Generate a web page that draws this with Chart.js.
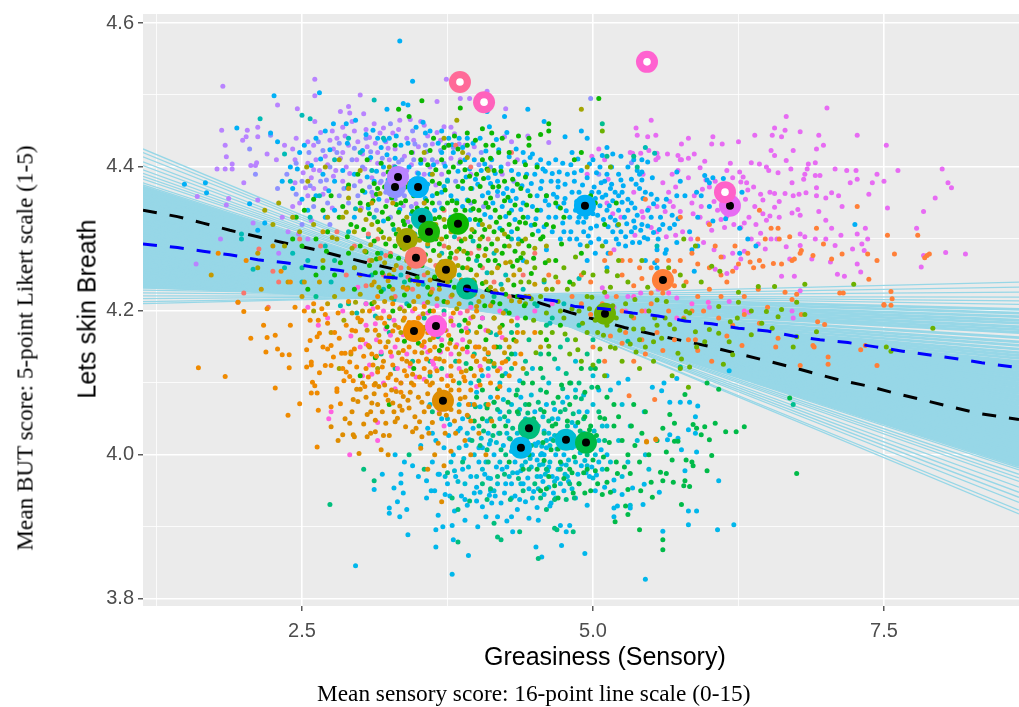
<!DOCTYPE html>
<html>
<head>
<meta charset="utf-8">
<title>Lets skin Breath vs Greasiness</title>
<script src="https://cdn.jsdelivr.net/npm/chart.js@4"></script>
<style>
  html, body { margin: 0; padding: 0; background: #fff; }
  #wrap { position: relative; width: 1019px; height: 707px; overflow: hidden; }
  #chart { position: absolute; left: 0; top: 0; }
  .lab { position: absolute; white-space: nowrap; color: #000; }
  #xTitle { left: 484px; top: 642px; font: 25px "Liberation Sans", Arial, sans-serif; }
  #yTitle { left: 87px; top: 309px; font: 25px "Liberation Sans", Arial, sans-serif; transform: translate(-50%, -50%) rotate(-90deg); }
  #xOuter { left: 317px; top: 680px; font: 23.3px "Liberation Serif", serif; }
  #yOuter { left: 25px; top: 348px; font: 23.2px "Liberation Serif", serif; transform: translate(-50%, -50%) rotate(-90deg); }
</style>
</head>
<body>
<div id="wrap">
  <canvas id="chart" width="1019" height="707"></canvas>
  <div class="lab" id="xTitle">Greasiness (Sensory)</div>
  <div class="lab" id="yTitle">Lets skin Breath</div>
  <div class="lab" id="xOuter">Mean sensory score: 16-point line scale (0-15)</div>
  <div class="lab" id="yOuter">Mean BUT score: 5-point Likert scale (1-5)</div>
</div>
<script>
// Axis ticks
const xTicks = [1.25, 2.5, 3.75, 5, 6.25, 7.5];
const yTicks = [3.8, 3.9, 4.0, 4.1, 4.2, 4.3, 4.4, 4.5, 4.6];
const xMajor = [2.5, 5, 7.5];
const yMajor = [3.8, 4.0, 4.2, 4.4, 4.6];

// Group means (big circles)
const meanX = [3.299, 3.325, 3.497, 3.531, 3.591, 3.84, 3.402, 3.479, 3.737, 3.918, 4.931, 6.177, 5.601, 5.103, 3.462, 3.651, 3.711, 4.45, 4.381, 4.768, 4.94];
const meanY = [4.372, 4.386, 4.372, 4.328, 4.31, 4.321, 4.3, 4.274, 4.257, 4.231, 4.346, 4.346, 4.243, 4.196, 4.172, 4.179, 4.075, 4.037, 4.01, 4.021, 4.017];
const meanColors = ['#8F91FF', '#B983FF', '#00B0F6', '#00BBB5', '#1CB80A', '#0CB702', '#A3A500', '#F8766D', '#C49A00', '#00BF8F', '#00AEF5', '#E76BF3', '#FF7F38', '#6BB100', '#F08B00', '#FF61E0', '#DE8C00', '#00BE7D', '#00B7EB', '#00BCD6', '#00BA48'];

// Ring markers with white centre
const ringX = [3.857, 4.064, 5.464, 6.134];
const ringY = [4.518, 4.49, 4.546, 4.365];
const ringColors = ['#FF6A98', '#FF62BC', '#FF62D0', '#FF61C9'];

// Dashed lines
const blackDashX = [1.134, 1.43, 1.65, 1.88, 2.12, 2.36, 2.59, 2.83, 3.08, 3.32, 3.49, 4.44, 4.82, 5.27, 5.53, 5.99, 6.21, 6.46, 6.68, 6.91, 7.14, 7.38, 7.61, 7.84, 8.07, 8.3, 8.66];
const blackDashY = [4.34, 4.331, 4.322, 4.312, 4.303, 4.294, 4.286, 4.276, 4.266, 4.257, 4.249, 4.216, 4.197, 4.177, 4.167, 4.151, 4.142, 4.132, 4.123, 4.113, 4.103, 4.095, 4.085, 4.076, 4.067, 4.058, 4.049];
const blueDashX = [1.134, 1.43, 1.65, 1.88, 2.12, 2.36, 2.59, 2.83, 3.06, 3.29, 3.52, 3.75, 3.97, 4.2, 4.44, 4.67, 4.85, 5.09, 5.34, 5.56, 5.79, 6.02, 6.25, 6.5, 6.72, 6.95, 7.19, 7.43, 7.66, 7.88, 8.11, 8.34, 8.66];
const blueDashY = [4.293, 4.288, 4.283, 4.278, 4.271, 4.267, 4.261, 4.256, 4.249, 4.246, 4.241, 4.235, 4.228, 4.224, 4.219, 4.214, 4.206, 4.203, 4.197, 4.193, 4.186, 4.182, 4.176, 4.172, 4.165, 4.16, 4.156, 4.15, 4.144, 4.139, 4.134, 4.128, 4.121];

// Fan of bootstrap lines: value at left edge and at right edge of the panel
const fanLeft = [4.425, 4.42, 4.414, 4.407, 4.402, 4.396, 4.391, 4.387, 4.383, 4.378, 4.375, 4.372, 4.371, 4.369, 4.368, 4.366, 4.364, 4.363, 4.361, 4.359, 4.358, 4.356, 4.354, 4.353, 4.351, 4.349, 4.348, 4.346, 4.345, 4.343, 4.341, 4.34, 4.338, 4.336, 4.335, 4.333, 4.332, 4.33, 4.328, 4.327, 4.325, 4.323, 4.322, 4.32, 4.319, 4.317, 4.315, 4.314, 4.312, 4.31, 4.309, 4.307, 4.306, 4.304, 4.302, 4.301, 4.299, 4.297, 4.296, 4.294, 4.293, 4.291, 4.289, 4.288, 4.286, 4.284, 4.283, 4.281, 4.28, 4.278, 4.276, 4.275, 4.273, 4.271, 4.27, 4.268, 4.267, 4.265, 4.263, 4.262, 4.26, 4.258, 4.257, 4.255, 4.254, 4.252, 4.25, 4.249, 4.247, 4.246, 4.244, 4.243, 4.241, 4.239, 4.238, 4.236, 4.235, 4.237, 4.234, 4.236, 4.233, 4.235, 4.233, 4.229, 4.225, 4.221, 4.217, 4.213, 4.21];
const fanRight = [3.918, 3.923, 3.934, 3.941, 3.948, 3.955, 3.963, 3.968, 3.973, 3.979, 3.982, 3.985, 3.989, 3.987, 3.992, 3.99, 3.995, 3.993, 3.998, 3.996, 4.001, 3.999, 4.004, 4.002, 4.007, 4.005, 4.01, 4.008, 4.013, 4.011, 4.016, 4.014, 4.019, 4.017, 4.022, 4.02, 4.025, 4.023, 4.028, 4.026, 4.031, 4.029, 4.034, 4.032, 4.037, 4.035, 4.04, 4.038, 4.043, 4.041, 4.046, 4.049, 4.047, 4.052, 4.05, 4.055, 4.058, 4.056, 4.061, 4.059, 4.064, 4.067, 4.065, 4.07, 4.073, 4.071, 4.076, 4.079, 4.082, 4.08, 4.085, 4.088, 4.091, 4.089, 4.094, 4.097, 4.1, 4.103, 4.106, 4.104, 4.109, 4.112, 4.115, 4.118, 4.121, 4.124, 4.127, 4.13, 4.134, 4.138, 4.142, 4.147, 4.152, 4.157, 4.163, 4.17, 4.174, 4.178, 4.183, 4.187, 4.192, 4.197, 4.202, 4.209, 4.214, 4.219, 4.226, 4.233, 4.24];

// Small points per group, flat x,y pairs
const ptsViolet = [7.01,4.482,6.66,4.47,5.5,4.465,5.37,4.454,5.38,4.444,5.47,4.442,5.54,4.444,5.82,4.44,5.76,4.432,6.03,4.442,6.02,4.432,6.11,4.432,6.25,4.435,6.39,4.444,6.54,4.444,6.56,4.454,6.65,4.451,6.62,4.442,6.78,4.449,6.94,4.444,6.92,4.425,6.98,4.43,7.27,4.444,7.52,4.43,6.53,4.423,6.56,4.416,6.72,4.423,6.66,4.409,6.85,4.404,6.91,4.406,6.36,4.406,6.43,4.404,6.49,4.4,6.51,4.395,6.59,4.392,6.7,4.397,6.84,4.397,6.82,4.39,6.91,4.388,6.95,4.388,6.81,4.383,6.71,4.378,7.08,4.397,7.18,4.395,7.26,4.395,7.44,4.39,7.62,4.395,8.0,4.397,7.27,4.383,7.21,4.378,7.4,4.378,7.5,4.38,8.05,4.378,8.08,4.371,7.94,4.357,7.37,4.362,7.53,4.343,7.84,4.338,7.78,4.315,8.03,4.281,8.2,4.279,7.84,4.277,7.82,4.261,7.34,4.315,7.36,4.3,7.31,4.293,7.33,4.284,7.23,4.286,7.13,4.305,7.27,4.307,7.14,4.345,7.11,4.36,7.05,4.364,7.0,4.357,6.92,4.371,6.92,4.36,6.94,4.338,7.0,4.326,7.05,4.315,6.91,4.3,7.0,4.3,6.82,4.303,6.78,4.307,6.78,4.291,6.66,4.289,6.69,4.272,6.88,4.272,7.04,4.268,7.08,4.291,7.27,4.265,7.3,4.254,7.1,4.251,7.16,4.248,6.62,4.248,6.73,4.248,5.05,4.425,5.32,4.42,5.34,4.419,5.41,4.419,5.48,4.423,5.55,4.419,5.56,4.413,5.64,4.418,5.54,4.41,5.73,4.416,5.76,4.41,5.82,4.412,5.87,4.418,5.96,4.408,5.92,4.399,6.18,4.405,6.15,4.395,6.2,4.385,6.26,4.393,6.29,4.386,6.27,4.379,6.32,4.378,6.38,4.372,6.33,4.368,6.44,4.362,6.46,4.354,6.52,4.365,6.56,4.363,6.6,4.352,6.65,4.363,6.72,4.36,6.77,4.362,6.83,4.364,6.56,4.344,6.76,4.341,6.78,4.333,6.71,4.336,6.6,4.33,6.52,4.332,6.46,4.335,6.49,4.326,6.4,4.32,6.34,4.33,6.3,4.322,6.27,4.316,6.21,4.32,6.13,4.316,6.02,4.312,5.99,4.322,6.1,4.327,6.15,4.332,6.07,4.34,6.04,4.352,5.93,4.345,5.85,4.35,5.86,4.335,5.92,4.33,5.75,4.338,5.69,4.345,5.66,4.352,5.62,4.338,5.55,4.345,5.48,4.343,5.42,4.338,5.65,4.365,5.71,4.372,5.6,4.378,5.68,4.39,5.73,4.395,5.75,4.41,5.82,4.385,5.87,4.36,5.94,4.369,6.0,4.372,5.97,4.382,6.05,4.38,6.19,4.37,6.31,4.355,6.39,4.345,6.44,4.308,6.53,4.3,6.58,4.3,6.48,4.286,6.42,4.293,6.36,4.3,6.3,4.283,6.27,4.272,6.2,4.28,6.12,4.275,6.04,4.285,6.05,4.258,6.15,4.252,6.23,4.26,5.95,4.295,5.84,4.3,5.77,4.31,5.71,4.305,5.63,4.303,5.55,4.31,5.5,4.316,5.43,4.33,5.36,4.305,5.24,4.33,5.17,4.335,5.12,4.35,5.18,4.285,5.3,4.22,5.41,4.225,5.56,4.23,5.72,4.218,6.17,4.213,6.78,4.228,6.0,4.205,6.34,4.198,6.71,4.2,6.72,4.19,5.08,4.232,5.18,4.205,4.95,4.39,4.99,4.415,5.1,4.41,5.13,4.383,5.35,4.365,5.43,4.39];
const ptsPurple = [1.82,4.512,2.61,4.522,2.61,4.499,2.29,4.486,2.46,4.481,1.81,4.451,2.03,4.451,2.12,4.455,2.12,4.442,2.02,4.442,1.99,4.437,1.84,4.43,1.85,4.414,1.77,4.397,1.84,4.397,1.9,4.404,1.9,4.397,2.06,4.402,2.11,4.406,2.1,4.402,2.0,4.378,1.87,4.356,1.6,4.359,1.85,4.347,2.08,4.322,1.8,4.3,1.59,4.265,2.12,4.354,3.74,4.522,3.86,4.495,3.94,4.495,4.09,4.505,3.66,4.491,4.25,4.481,3.0,4.5,2.9,4.484,2.83,4.477,2.91,4.475,3.03,4.474,2.61,4.463,3.34,4.465,3.43,4.466,3.52,4.463,3.55,4.458,3.66,4.448,3.72,4.456,3.78,4.455,3.85,4.432,3.9,4.43,3.98,4.428,4.24,4.442,4.3,4.435,4.44,4.443,4.62,4.434,4.35,4.41,4.27,4.404,4.22,4.39,3.62,4.432,3.5,4.428,3.4,4.44,3.28,4.447,3.2,4.454,3.12,4.46,3.05,4.452,2.95,4.45,2.85,4.455,2.8,4.44,2.76,4.45,2.66,4.448,2.6,4.43,2.55,4.435,2.45,4.44,2.42,4.425,2.35,4.43,2.28,4.41,2.2,4.418,2.44,4.41,2.55,4.405,2.62,4.41,2.7,4.415,2.77,4.425,2.85,4.42,2.9,4.43,2.98,4.435,3.06,4.428,3.15,4.42,3.22,4.435,3.3,4.425,3.38,4.415,3.45,4.42,3.55,4.41,3.25,4.41,3.15,4.405,3.08,4.41,2.97,4.41,2.88,4.4,2.79,4.395,2.65,4.395,2.58,4.385,2.6,4.37,2.7,4.37,2.55,4.36,2.48,4.35,2.42,4.345,2.33,4.33,2.38,4.31,2.3,4.28,2.55,4.3,2.85,4.38,3.0,4.38,3.1,4.385,3.2,4.39,3.26,4.375,3.4,4.395,3.55,4.39,3.6,4.4,3.7,4.39,3.65,4.375,3.95,4.39,3.86,4.41,
  2.74,4.437,2.87,4.443,2.93,4.463,3.08,4.441,3.17,4.447,3.24,4.426,3.33,4.452,3.46,4.437,3.58,4.443,3.69,4.437,3.81,4.446,3.13,4.433,3.02,4.418,2.83,4.412,2.72,4.403,2.6,4.396,2.51,4.392,2.44,4.378,2.53,4.371,2.68,4.362,2.77,4.387,2.91,4.391,3.04,4.397,3.17,4.378,3.29,4.401,3.44,4.403,3.52,4.382,3.66,4.407,3.78,4.412,3.11,4.36,3.23,4.353,3.01,4.343,2.76,4.343,2.58,4.326,2.47,4.307,3.37,4.346,3.41,4.324,3.48,4.349];
const ptsLavender = [2.23,4.444,2.05,4.425,2.1,4.39,2.29,4.37,2.37,4.39,2.45,4.405,2.56,4.42,2.64,4.435,2.5,4.38,2.66,4.38,2.74,4.4,2.8,4.42,2.93,4.41,3.02,4.4,3.1,4.365,3.18,4.38,3.22,4.365,3.3,4.355,3.38,4.36,3.44,4.345,3.36,4.41,3.46,4.41,3.56,4.43,3.62,4.41,3.74,4.43,3.85,4.405,3.72,4.405,3.82,4.38,3.68,4.35,3.55,4.35,3.26,4.33,3.14,4.34,2.98,4.36,2.9,4.35,2.82,4.36,2.72,4.35,2.6,4.345,2.5,4.32,2.74,4.32,3.05,4.44,3.26,4.46,3.45,4.45,4.04,4.42,4.12,4.4,4.18,4.36,4.32,4.38,4.06,4.345,3.95,4.35,4.98,4.495,5.05,4.39,5.33,4.406,
  2.68,4.423,2.82,4.433,2.95,4.426,3.09,4.421,3.19,4.412,3.33,4.407,3.47,4.432,3.57,4.421,3.69,4.423,3.8,4.427,3.93,4.417,4.02,4.403,3.08,4.372,2.95,4.374,2.86,4.37,2.71,4.382,2.57,4.374,2.45,4.362,3.36,4.38,3.29,4.37,3.41,4.373,3.49,4.392];
const ptsBlue = [3.34,4.575,3.45,4.519,2.65,4.503,2.26,4.499,1.94,4.454,2.23,4.447,2.29,4.435,1.49,4.376,1.67,4.378,1.68,4.364,2.05,4.349,2.18,4.322,2.12,4.312,3.37,4.488,3.41,4.486,3.23,4.48,4.09,4.477,4.44,4.48,4.24,4.47,4.58,4.463,4.11,4.456,4.26,4.448,4.76,4.442,3.48,4.455,3.54,4.462,3.6,4.45,3.7,4.45,3.76,4.44,3.85,4.44,3.92,4.44,4.03,4.44,4.17,4.438,4.34,4.425,4.4,4.42,4.48,4.418,4.55,4.41,4.62,4.405,4.68,4.41,4.74,4.405,4.82,4.42,4.9,4.395,4.13,4.41,4.21,4.4,4.3,4.395,4.36,4.39,4.43,4.39,4.5,4.39,4.56,4.38,4.64,4.38,4.7,4.372,4.78,4.39,4.84,4.38,4.88,4.365,4.26,4.37,4.18,4.38,4.1,4.385,4.04,4.395,3.98,4.41,3.9,4.41,3.8,4.42,3.7,4.42,3.6,4.39,3.52,4.405,3.42,4.4,3.35,4.43,3.25,4.44,3.15,4.44,3.05,4.445,2.96,4.465,2.88,4.46,2.77,4.46,2.7,4.45,2.62,4.44,2.52,4.43,2.48,4.42,2.4,4.4,2.33,4.38,2.42,4.37,2.5,4.355,2.55,4.34,2.62,4.36,2.68,4.39,2.78,4.38,2.85,4.395,2.95,4.39,3.04,4.365,3.12,4.38,3.2,4.4,3.16,4.355,3.28,4.39,3.44,4.38,3.62,4.36,3.7,4.365,3.78,4.36,3.88,4.37,3.96,4.37,4.05,4.36,4.14,4.35,4.22,4.345,4.3,4.34,4.4,4.35,4.48,4.345,4.55,4.34,4.62,4.33,4.7,4.345,4.8,4.33,4.85,4.34,4.2,4.315,4.3,4.31,4.36,4.3,4.02,4.32,3.88,4.345,3.78,4.33,3.64,4.34,3.44,4.335,3.2,4.325,2.95,4.33,2.78,4.34,2.7,4.33,3.85,4.31,4.12,4.33,4.4,4.27,4.6,4.285,4.72,4.3,4.68,4.33,
  3.11,4.451,3.21,4.437,3.31,4.443,3.41,4.433,3.56,4.447,3.67,4.433,3.79,4.431,3.88,4.427,3.97,4.433,4.08,4.422,4.19,4.424,4.28,4.414,4.41,4.407,4.52,4.403,4.59,4.394,4.71,4.393,4.81,4.403,4.87,4.411,4.16,4.391,4.07,4.404,3.94,4.397,3.84,4.394,3.73,4.401,3.63,4.403,3.5,4.391,3.37,4.387,3.23,4.417,3.14,4.394,3.02,4.423,2.89,4.433,2.74,4.424,2.66,4.411,2.58,4.402,2.46,4.397,2.73,4.367,2.89,4.371,3.06,4.386,3.24,4.382,3.34,4.369,3.52,4.364,3.58,4.376,3.75,4.382,3.83,4.353,3.92,4.354,4.01,4.376,4.1,4.364,4.23,4.363,4.34,4.356,4.44,4.367,4.52,4.36,4.59,4.353,4.66,4.362,4.76,4.356,4.82,4.365,4.9,4.351,4.25,4.331,4.33,4.327,4.44,4.33,4.51,4.328,4.58,4.317,4.65,4.31,4.74,4.322,4.81,4.31,4.07,4.334,3.94,4.327,3.7,4.343,3.56,4.356,3.34,4.341,3.07,4.343,
  4.46,4.413,4.57,4.397,4.65,4.391,4.76,4.376,4.47,4.377,4.39,4.374,4.31,4.367,4.62,4.347,4.69,4.358,4.77,4.339,4.87,4.323,4.53,4.311,4.47,4.319,4.38,4.341,4.29,4.353,4.18,4.366,4.12,4.377,3.99,4.383,3.91,4.386,3.72,4.373,3.55,4.377,3.3,4.412,3.18,4.427,3.09,4.413];
const ptsSky = [4.9,4.45,4.95,4.44,5.12,4.427,5.17,4.418,5.24,4.415,5.35,4.41,5.42,4.41,5.47,4.407,5.3,4.4,5.38,4.395,5.42,4.393,5.12,4.39,5.1,4.38,5.03,4.392,4.95,4.385,5.22,4.39,5.24,4.382,5.33,4.383,5.4,4.39,5.42,4.382,5.51,4.385,5.72,4.393,5.75,4.38,5.96,4.388,5.98,4.382,6.0,4.378,6.03,4.385,6.12,4.384,6.28,4.365,5.15,4.37,5.19,4.365,5.22,4.36,5.25,4.365,5.3,4.355,5.33,4.35,5.4,4.37,5.45,4.365,5.5,4.362,5.55,4.355,5.63,4.355,5.72,4.36,5.79,4.36,5.89,4.365,5.93,4.36,5.12,4.34,5.15,4.33,5.22,4.34,5.27,4.33,5.3,4.34,5.35,4.325,5.38,4.333,5.42,4.32,5.47,4.34,5.5,4.33,5.58,4.33,5.6,4.32,5.61,4.345,5.66,4.315,5.7,4.32,5.73,4.328,5.83,4.31,5.9,4.33,6.0,4.345,6.03,4.325,6.14,4.328,6.26,4.315,6.33,4.3,6.4,4.29,6.26,4.28,7.25,4.32,5.17,4.31,5.2,4.3,5.24,4.31,5.28,4.29,5.33,4.31,5.4,4.295,5.47,4.3,5.56,4.3,5.55,4.285,5.62,4.28,5.72,4.295,5.85,4.285,5.87,4.255,5.9,4.29,5.05,4.3,5.02,4.28,4.98,4.315,4.98,4.295,4.95,4.27,5.13,4.28,5.12,4.26,5.45,4.27,5.53,4.267,5.55,4.26,5.63,4.285,4.7,4.38,4.75,4.35,4.88,4.33,4.92,4.31,4.86,4.3,4.8,4.3,4.75,4.31,4.6,4.36,4.55,4.37,5.0,4.335,5.05,4.365,4.99,4.365,
  5.01,4.372,5.07,4.378,5.11,4.361,5.17,4.353,5.06,4.346,5.09,4.327,5.03,4.318,5.13,4.317,5.19,4.326,5.25,4.351,5.29,4.321,5.36,4.343,5.43,4.356,5.47,4.318,5.52,4.349,5.34,4.295,5.41,4.312,5.22,4.293,5.11,4.296,4.94,4.33,4.86,4.352,4.91,4.375,4.84,4.392,5.0,4.41,5.06,4.4,5.16,4.4,
  4.88,4.344,4.95,4.357,4.99,4.347,5.04,4.333,4.92,4.323,4.96,4.304,4.89,4.292,5.08,4.358,5.14,4.346,5.21,4.319,5.28,4.303,5.36,4.316,5.44,4.302,5.52,4.309,5.57,4.313,5.68,4.333,5.02,4.356,5.16,4.376,5.26,4.374,5.37,4.376,4.97,4.404,5.08,4.416];
const ptsTeal = [2.14,4.467,3.12,4.493,2.5,4.472,2.57,4.467,1.98,4.307,1.98,4.3,2.08,4.258,2.35,4.418,2.4,4.38,2.57,4.33,2.65,4.36,2.78,4.41,2.9,4.44,3.0,4.42,3.1,4.395,3.2,4.44,3.3,4.4,3.12,4.33,2.9,4.31,2.7,4.29,2.55,4.27,2.42,4.28,2.35,4.26,2.5,4.24,2.75,4.24,2.95,4.26,3.18,4.28,3.35,4.25,3.2,4.23,3.05,4.21,3.25,4.19,3.4,4.21,3.58,4.29,3.7,4.28,3.85,4.25,4.0,4.27,4.15,4.28,4.25,4.25,4.4,4.23,4.3,4.3,3.95,4.34,3.75,4.38,4.58,4.24,4.75,4.21,4.88,4.245,5.45,4.427,5.53,4.419,5.55,4.29,
  2.96,4.342,3.07,4.303,3.29,4.313,3.47,4.307,3.63,4.317,3.81,4.303,3.97,4.297,4.09,4.253,4.21,4.237,3.91,4.236,3.54,4.237,3.29,4.216,3.13,4.193,2.97,4.197,2.83,4.207,4.52,4.207,4.63,4.183,3.67,4.164,3.93,4.172,4.17,4.167];
const ptsAqua = [3.6,4.07,3.75,4.05,3.85,4.07,3.95,4.1,4.1,4.12,4.2,4.1,4.33,4.14,4.48,4.12,4.62,4.1,4.7,4.12,4.85,4.13,5.0,4.11,5.15,4.09,5.0,4.07,4.85,4.09,4.65,4.05,4.6,4.02,4.63,3.99,4.7,3.98,4.72,4.03,4.82,4.045,4.88,4.06,4.92,4.03,4.85,3.99,4.78,3.97,4.72,3.96,4.62,3.955,4.52,3.97,4.55,4.0,4.5,4.03,4.42,4.05,4.35,4.03,4.3,4.07,4.2,4.05,4.12,4.02,4.2,3.99,4.28,3.97,4.38,3.96,4.42,3.99,4.05,3.98,3.98,4.0,3.92,4.03,3.85,4.01,3.78,3.99,3.9,3.96,4.15,3.95,4.3,3.94,4.48,3.94,4.58,3.945,4.68,3.94,4.88,3.96,4.95,3.985,5.02,4.0,5.08,3.98,5.15,3.99,5.22,4.02,5.08,4.04,5.32,4.04,5.38,4.02,5.45,4.0,5.48,3.98,5.25,3.97,5.18,3.95,5.32,3.93,5.3,3.99,5.44,4.06,5.25,4.07,5.12,4.04,5.05,4.02,
  4.43,4.023,4.47,3.983,4.51,4.013,4.57,3.987,4.63,4.013,4.67,4.027,4.74,4.013,4.79,3.993,4.83,4.027,4.89,4.003,4.96,4.017,4.53,3.953,4.59,3.973,4.67,3.963,4.76,3.973,4.82,3.953,4.36,4.003,4.28,4.023,4.17,4.017,4.09,4.047,4.23,4.077,4.37,4.063,4.47,4.083,4.57,4.053,4.74,4.073,4.92,4.083,5.01,4.033,4.04,4.023,3.93,3.983,3.84,3.963,4.12,3.967,
  4.46,3.995,4.54,3.986,4.61,3.978,4.69,4.008,4.77,3.986,4.84,4.012,4.93,3.992,5.0,3.968,4.56,4.012,4.62,4.03,4.39,3.985,4.31,3.975,4.18,3.96,4.08,3.99,4.0,3.97,3.89,3.995,3.81,3.978,3.73,3.97,4.26,4.03,4.41,4.035,4.53,4.04,4.78,4.022];
const ptsCyan = [2.96,3.846,3.79,3.834,3.93,3.86,3.65,3.872,3.41,3.889,3.65,3.896,3.71,3.9,3.79,3.902,3.8,3.882,3.9,3.909,4.01,3.9,4.08,3.914,4.18,3.914,4.26,3.908,4.3,3.914,4.31,3.893,4.45,3.912,4.53,3.909,4.51,3.872,4.56,3.858,4.73,3.874,4.77,3.893,4.8,3.902,4.72,3.902,3.34,3.914,3.25,3.919,3.25,3.926,3.4,3.924,3.32,3.935,3.37,3.947,3.29,3.954,3.35,3.961,3.35,3.973,3.19,3.973,3.12,3.952,3.57,3.94,3.57,3.964,3.61,3.95,3.64,3.95,3.73,3.945,3.67,3.916,3.81,3.922,3.9,3.938,4.0,3.936,4.05,3.928,4.11,3.944,4.12,3.95,4.21,3.933,4.35,3.924,4.37,3.938,4.66,3.947,4.63,3.929,4.64,3.933,4.52,3.927,5.45,3.827,4.93,3.863,5.6,3.894,5.82,3.903,6.07,3.896,6.21,3.903,5.89,3.922,5.82,3.922,5.43,3.931,5.32,3.926,5.21,3.929,5.18,3.926,5.18,3.914,5.57,3.948,5.34,3.954,5.44,3.959,6.08,3.964,5.79,3.978,5.89,4.004,5.76,4.007,5.88,4.03,5.82,4.035,5.88,4.053,5.9,4.068,5.83,4.073,5.75,4.073,5.66,4.073,5.72,4.106,5.61,4.1,5.59,4.089,5.51,4.094,6.17,4.117,5.64,4.021,5.66,4.028,5.73,4.023,3.3,4.0,3.38,3.99,3.45,3.985,3.5,3.97,3.62,3.99,3.65,4.02,3.72,4.01,3.8,4.0,3.82,3.97,3.75,3.96,3.88,3.98,3.95,3.97,4.0,3.955,4.02,3.99,4.05,4.01,4.1,4.03,4.15,4.0,4.22,3.98,4.25,3.96,4.33,3.99,4.2,4.06,4.28,4.09,4.38,4.08,4.12,4.08,4.05,4.11,3.95,4.07,3.88,4.05,3.7,4.05,3.62,4.03,4.42,4.02,4.48,4.0,4.55,3.97,4.6,4.01,4.65,3.97,4.68,4.0,4.75,4.0,4.82,4.01,4.9,3.985,4.97,3.97,5.02,3.95,5.05,3.99,5.12,4.0,5.18,3.965,5.1,3.955,5.25,3.945,4.4,3.96,4.75,3.95,4.85,3.94,4.95,3.93,4.42,3.935,4.3,3.96,4.35,3.975,4.5,4.06,4.6,4.07,4.7,4.05,4.78,4.08,4.85,4.04,4.95,4.06,5.05,4.09,5.12,4.11,5.22,4.1,5.3,4.105,
  3.52,4.013,3.58,4.037,3.67,3.973,3.76,4.027,3.84,4.033,3.91,4.013,3.97,4.037,4.03,4.067,4.07,3.973,4.17,3.983,4.23,4.013,4.27,4.047,4.33,4.017,4.39,4.043,4.47,4.027,4.53,4.017,4.57,3.963,4.62,3.983,4.69,3.967,4.73,3.987,4.79,3.963,4.86,4.017,4.93,4.007,4.99,3.983,5.07,4.007,4.13,3.933,4.24,3.947,4.33,3.943,4.45,3.953,4.52,3.993,4.58,4.033,4.67,4.063,3.87,3.943,3.77,3.943,3.68,3.973,4.0,4.087,4.15,4.073,4.25,4.113,4.37,4.103,
  4.03,3.948,4.1,3.968,4.16,3.943,4.26,3.983,4.38,3.978,4.44,3.968,4.49,3.949,4.56,4.002,4.64,4.022,4.71,4.018,4.77,4.027,4.87,3.973,4.94,3.975,5.03,3.972,4.19,4.03,4.11,4.015,4.02,4.01,3.94,4.021,3.86,4.037,3.77,4.042,3.98,3.947,3.92,3.93,4.3,4.005,4.36,4.02,4.42,4.006,4.5,4.015,4.58,4.0];
const ptsMint = [2.74,3.931,3.03,3.98,3.12,3.964,3.84,3.879,4.21,3.882,4.18,3.886,4.37,3.893,4.53,3.856,4.67,3.898,4.69,3.896,4.83,3.893,4.15,3.905,3.79,3.94,3.84,3.924,3.94,3.936,4.09,3.938,4.29,3.938,4.6,3.924,4.67,3.938,4.77,3.938,4.84,3.94,3.42,4.0,3.55,3.98,3.62,4.06,3.75,3.975,3.88,3.99,3.96,4.02,4.02,4.04,4.08,4.07,4.12,4.05,4.2,4.03,4.25,4.0,4.1,3.99,4.05,3.96,4.18,3.97,4.32,4.01,4.38,4.04,4.28,4.06,4.35,4.09,4.42,4.07,4.55,4.09,4.5,4.04,4.58,4.03,4.6,3.98,4.5,3.96,4.45,3.98,4.4,3.95,4.55,3.94,4.72,3.98,4.66,4.02,4.72,4.06,4.78,4.04,4.85,4.08,4.92,4.05,4.88,4.1,4.98,4.12,5.05,4.06,5.1,4.02,4.95,4.0,4.8,3.96,3.85,4.1,3.7,4.12,3.6,4.13,4.2,4.15,4.1,4.14,4.3,4.17,4.45,4.16,4.6,4.18,4.95,4.14,5.05,4.13,
  3.93,4.053,3.99,4.067,4.06,4.033,4.14,4.027,4.18,4.063,4.24,4.053,4.31,4.037,4.36,4.057,4.43,4.047,4.47,4.013,4.53,4.073,4.62,4.047,4.7,4.027,4.76,4.063,4.83,4.057,4.89,4.033,4.02,4.103,4.15,4.123,4.27,4.133,4.43,4.113,4.57,4.107,4.67,4.133,4.77,4.113,3.91,4.127,4.36,3.967,4.24,3.973,4.12,3.953,
  4.03,4.013,4.09,4.007,4.21,4.007,4.29,4.022,4.44,4.058,4.55,4.063,4.66,4.072,4.74,4.092,4.81,4.1,4.9,4.078,4.99,4.094];
const ptsSeaGreen = [2.5,4.26,2.62,4.22,2.78,4.27,2.9,4.21,3.1,4.25,3.25,4.17,3.38,4.24,3.55,4.19,3.6,4.11,3.72,4.2,3.85,4.18,3.95,4.21,4.05,4.19,4.15,4.22,4.25,4.2,4.35,4.18,4.5,4.21,4.65,4.19,4.78,4.16,4.88,4.18,5.0,4.16,3.82,4.13,3.98,4.14,4.12,4.17,4.3,4.12,4.42,4.13,4.55,4.14,4.72,4.15,3.45,4.13,3.3,4.12,3.18,4.14,5.08,4.46,5.12,4.415,5.35,4.415,5.75,4.122,5.3,4.158,5.38,4.4,6.72,4.07];
const ptsEmerald = [6.75,3.974,6.69,4.079,6.3,4.039,6.23,4.032,6.14,4.032,6.05,4.044,6.0,4.021,6.02,3.999,5.98,3.978,6.08,4.091,5.98,4.1,5.96,4.039,5.93,4.028,5.89,4.037,5.86,4.042,5.85,3.99,5.8,3.993,5.86,3.985,5.83,3.956,5.79,3.964,5.78,3.957,5.76,3.931,5.69,3.962,5.68,3.993,5.63,4.004,5.7,4.044,5.73,4.019,5.7,4.019,5.6,4.037,5.79,4.084,5.66,4.056,5.58,3.976,5.63,3.974,5.6,3.964,5.51,3.941,5.5,3.962,5.41,3.95,5.3,3.952,5.4,3.896,5.6,3.882,5.6,3.868,5.3,3.917,5.28,3.929,5.19,3.907,5.15,3.948,5.32,3.974,5.21,3.974,5.12,3.962,4.0,4.08,4.05,4.09,4.12,4.13,4.22,4.11,4.3,4.14,4.4,4.1,4.48,4.1,4.55,4.12,4.62,4.14,4.7,4.08,4.8,4.1,4.9,4.12,5.02,4.12,5.12,4.08,5.18,4.07,5.1,4.05,5.18,4.04,5.25,4.02,5.33,4.04,5.42,4.03,5.45,4.06,5.35,4.07,5.55,4.02,5.48,4.0,5.4,3.99,5.3,4.0,5.2,3.99,5.12,3.98,5.04,3.96,4.95,3.98,4.88,4.01,4.98,4.04,4.82,4.02,4.75,4.03,4.65,4.04,4.58,4.06,4.45,4.07,4.35,4.06,4.25,4.04,4.15,4.04,4.05,4.05,4.45,4.0,4.52,3.98,4.62,3.97,4.72,3.99,4.8,3.98,4.88,3.96,4.98,3.95,5.08,3.945,4.7,3.94,4.55,3.95,4.4,3.98,4.28,3.99,
  4.57,4.017,4.64,4.007,4.68,4.043,4.73,4.013,4.78,4.047,4.84,3.997,4.9,4.023,4.93,4.053,5.0,3.993,5.03,4.027,5.09,3.997,5.14,4.017,5.22,4.053,5.27,3.983,5.36,4.013,4.6,3.953,4.67,3.957,4.75,3.967,4.83,3.947,4.93,3.947,4.15,4.073,4.27,4.073,4.42,4.03,4.49,4.05,4.6,4.087,4.73,4.097,
  4.97,4.035,5.06,4.052,4.87,4.045,4.92,3.975,5.02,3.978,4.7,4.008,4.82,3.975,4.58,3.992,4.47,4.043,4.34,4.083,4.18,4.092,4.09,4.065,3.98,4.047,4.8,4.07,4.93,4.087,5.04,4.094];
const ptsPink = [2.55,4.205,2.72,4.19,2.85,4.2,2.64,4.18,2.92,4.165,3.05,4.18,3.14,4.16,3.22,4.175,3.3,4.15,3.4,4.14,3.48,4.16,3.55,4.15,3.62,4.13,3.7,4.16,3.78,4.14,3.72,4.195,3.8,4.18,3.88,4.16,3.95,4.19,3.55,4.21,3.45,4.2,3.35,4.205,3.2,4.2,3.05,4.21,3.0,4.15,3.02,4.11,3.08,4.125,3.2,4.1,3.35,4.1,3.32,4.12,3.55,4.105,3.65,4.12,3.75,4.11,3.85,4.12,4.0,4.15,4.1,4.11,4.2,4.12,2.73,4.05,2.91,4.0,3.15,4.045,3.15,4.02,3.72,4.04,3.68,4.06,2.75,4.06,3.95,4.205,4.05,4.19,4.2,4.2,4.35,4.19,4.5,4.2,4.65,4.21,5.12,4.22,5.28,4.2,5.35,4.22,5.45,4.2,5.65,4.225,5.72,4.19,5.85,4.21,5.99,4.212,6.3,4.2,
  3.58,4.197,3.66,4.207,3.74,4.173,3.61,4.183,3.53,4.173,3.45,4.183,3.37,4.167,3.29,4.187,3.18,4.143,3.11,4.203,3.43,4.123,3.58,4.143,3.83,4.153,3.92,4.143,4.08,4.173,4.22,4.163,2.98,4.233,3.27,4.137,3.69,4.143,3.86,4.197,4.03,4.123,4.13,4.21,
  3.51,4.192,3.39,4.172,3.26,4.166,3.13,4.182,3.05,4.154,3.67,4.168,3.78,4.19,3.91,4.176,3.63,4.126,3.48,4.108,3.3,4.092,3.1,4.112,4.0,4.095];
const ptsSalmon = [2.13,4.286,2.48,4.3,2.66,4.29,2.8,4.31,2.95,4.29,3.15,4.3,3.26,4.28,3.08,4.27,3.2,4.25,3.35,4.26,3.55,4.25,3.62,4.23,3.45,4.23,3.3,4.22,3.72,4.29,3.85,4.3,3.95,4.28,4.05,4.26,4.15,4.24,4.28,4.22,4.4,4.25,4.1,4.3,3.92,4.2,3.78,4.22,3.05,4.235,2.88,4.25,3.95,4.4,3.72,4.34,3.82,4.43,4.3,4.42,4.5,4.28,1.95,4.212,2.0,4.225,2.21,4.205,2.25,4.255,2.3,4.24,
  3.37,4.293,3.52,4.283,3.65,4.263,3.41,4.247,3.22,4.277,3.07,4.307,3.58,4.313,3.82,4.273,4.02,4.287];
const ptsCoral = [7.27,4.345,7.53,4.305,7.79,4.305,7.59,4.279,7.89,4.279,7.87,4.277,7.85,4.274,7.44,4.27,7.36,4.279,7.37,4.244,7.56,4.227,7.57,4.217,7.5,4.208,7.56,4.208,7.14,4.279,7.05,4.272,6.92,4.315,6.98,4.293,6.89,4.277,6.79,4.284,6.69,4.303,6.43,4.34,6.53,4.315,6.59,4.315,7.15,4.225,7.12,4.225,7.5,4.209,6.9,4.15,7.02,4.136,7.02,4.126,7.44,4.124,7.3,4.146,7.34,4.152,6.99,4.181,6.93,4.185,6.89,4.152,6.78,4.124,6.59,4.162,6.57,4.15,6.43,4.183,6.28,4.152,6.79,4.195,6.71,4.216,6.75,4.223,6.65,4.226,5.53,4.077,5.31,4.082,5.46,4.019,5.54,4.021,5.45,4.355,5.75,4.33,5.9,4.3,6.0,4.32,6.05,4.29,6.1,4.275,6.22,4.29,6.25,4.265,6.33,4.28,6.35,4.268,6.43,4.27,6.46,4.262,6.55,4.266,6.62,4.265,6.71,4.27,6.73,4.272,6.78,4.28,6.6,4.3,6.48,4.3,6.38,4.26,6.2,4.255,6.1,4.25,6.0,4.26,5.9,4.265,5.85,4.28,5.75,4.27,5.7,4.255,5.65,4.27,5.55,4.27,5.5,4.26,5.4,4.26,5.32,4.27,5.25,4.27,5.15,4.28,5.1,4.27,5.25,4.25,5.35,4.235,5.42,4.245,5.5,4.225,5.6,4.225,5.7,4.235,5.8,4.24,5.9,4.22,6.0,4.23,6.1,4.22,6.15,4.24,6.3,4.22,6.42,4.23,6.5,4.205,6.3,4.195,6.2,4.18,6.08,4.19,5.95,4.2,5.85,4.2,5.78,4.19,5.65,4.2,5.5,4.21,5.42,4.2,5.35,4.19,5.25,4.2,5.2,4.22,5.08,4.21,4.98,4.24,4.9,4.25,4.82,4.22,4.7,4.24,4.62,4.25,4.9,4.21,4.98,4.195,5.15,4.165,5.28,4.17,5.42,4.16,5.55,4.17,5.7,4.16,5.82,4.16,5.9,4.145,6.02,4.13,6.15,4.165,5.88,4.16,5.6,4.145,5.45,4.14,5.35,4.13,5.25,4.155,5.1,4.13,5.0,4.15];
const ptsLime = [7.92,4.176,7.56,4.144,7.52,4.15,7.24,4.237,6.82,4.237,6.82,4.195,6.92,4.171,6.72,4.15,6.75,4.164,6.54,4.176,6.2,4.139,6.12,4.126,5.83,4.122,5.75,4.12,5.76,4.133,5.73,4.141,5.82,4.094,5.68,4.11,6.17,4.157,6.36,4.167,6.24,4.19,6.62,4.202,6.59,4.192,6.36,4.2,6.45,4.183,6.49,4.199,6.25,4.212,6.08,4.206,6.18,4.185,6.08,4.169,6.0,4.174,5.89,4.15,5.96,4.157,5.88,4.171,5.8,4.199,5.83,4.197,5.78,4.188,6.75,4.212,6.56,4.234,6.42,4.234,6.25,4.226,6.09,4.255,6.02,4.262,5.93,4.24,5.78,4.235,5.63,4.24,5.55,4.215,5.62,4.19,5.7,4.175,5.55,4.18,5.48,4.2,5.4,4.16,5.45,4.15,5.35,4.175,5.28,4.21,5.2,4.19,5.12,4.18,5.15,4.15,5.04,4.17,5.05,4.2,4.95,4.22,4.88,4.2,4.78,4.23,4.72,4.2,4.65,4.23,4.55,4.22,4.45,4.24,4.42,4.21,4.38,4.24,4.55,4.17,4.65,4.17,4.75,4.19,4.85,4.16,4.95,4.17,5.0,4.125,5.1,4.11,5.25,4.13,5.4,4.12,5.52,4.13,4.9,4.13,4.8,4.14,5.0,4.25,5.12,4.255,5.22,4.27,5.3,4.24,5.42,4.27,5.55,4.25,5.65,4.26,5.75,4.25,5.88,4.29,5.78,4.3,5.22,4.32,5.08,4.29,4.95,4.29,4.85,4.275,4.75,4.26,4.62,4.27,4.5,4.26,4.4,4.28,5.15,4.4,5.08,4.45,
  4.47,4.217,4.58,4.243,4.68,4.247,4.83,4.237,4.92,4.253,4.7,4.213,4.82,4.203,4.97,4.203,5.15,4.233,5.33,4.193,5.47,4.233,5.17,4.207,4.6,4.197,4.49,4.187,4.91,4.183,5.06,4.147,5.23,4.173,5.52,4.157,5.37,4.143,5.63,4.213,
  4.76,4.168,4.87,4.146,5.02,4.187,5.09,4.166,5.19,4.148,5.32,4.154,5.43,4.175,5.53,4.19,5.59,4.162,5.66,4.181,4.99,4.219,5.1,4.226,5.21,4.249,5.36,4.216,4.62,4.151,4.51,4.142];
const ptsGreen = [3.86,4.482,3.53,4.492,3.33,4.48,3.42,4.47,3.63,4.44,3.76,4.43,3.84,4.425,3.92,4.43,3.99,4.437,4.08,4.43,4.14,4.43,4.55,4.445,4.62,4.46,4.45,4.43,4.28,4.42,4.22,4.44,4.12,4.412,4.05,4.41,4.0,4.39,4.15,4.395,4.24,4.38,4.38,4.37,4.46,4.36,4.6,4.36,4.68,4.35,4.75,4.33,4.6,4.32,4.5,4.32,4.4,4.33,4.28,4.32,4.2,4.33,4.15,4.31,4.08,4.35,4.02,4.34,3.95,4.37,3.88,4.38,3.8,4.4,3.7,4.41,3.62,4.38,3.52,4.41,3.44,4.42,3.3,4.43,3.18,4.405,3.06,4.41,2.98,4.39,2.9,4.375,2.82,4.33,2.75,4.36,2.68,4.34,2.6,4.355,2.52,4.34,2.45,4.33,2.42,4.3,2.5,4.29,2.62,4.3,2.72,4.31,2.85,4.345,2.92,4.32,3.0,4.35,3.08,4.335,3.15,4.37,3.22,4.345,3.18,4.31,3.28,4.32,3.35,4.35,3.46,4.36,3.55,4.33,3.62,4.35,3.68,4.33,3.75,4.35,3.82,4.34,3.9,4.34,3.98,4.31,3.92,4.28,4.02,4.29,4.1,4.27,4.22,4.28,4.35,4.27,4.45,4.29,4.55,4.3,4.68,4.27,4.8,4.24,4.9,4.28,4.35,4.22,4.2,4.21,4.1,4.23,3.98,4.24,3.88,4.26,3.78,4.28,3.65,4.3,3.5,4.3,3.38,4.32,3.3,4.29,3.15,4.28,3.0,4.29,2.9,4.28,2.78,4.25,2.68,4.26,2.55,4.23,2.62,4.25,2.95,4.23,3.1,4.21,3.28,4.2,3.45,4.18,3.6,4.2,3.78,4.16,3.92,4.15,4.08,4.16,4.22,4.18,4.32,4.16,4.42,4.19,4.6,4.16,4.72,4.18,4.98,4.36,4.9,4.42,5.02,4.35,5.1,4.32,5.2,4.35,5.05,4.495,4.62,4.45,4.45,4.44,4.84,4.41,3.0,4.11,3.25,4.07,3.46,4.12,
  3.02,4.367,3.11,4.353,3.19,4.337,3.27,4.357,3.33,4.337,3.39,4.353,3.43,4.317,3.49,4.343,3.57,4.353,3.59,4.323,3.66,4.363,3.73,4.317,3.79,4.353,3.86,4.327,3.93,4.353,3.99,4.327,4.05,4.303,4.12,4.357,4.17,4.323,4.24,4.353,4.33,4.347,4.37,4.323,4.43,4.347,4.52,4.34,4.57,4.303,4.66,4.317,4.72,4.343,3.03,4.313,3.12,4.297,3.22,4.293,3.31,4.307,3.41,4.297,3.47,4.277,3.54,4.307,3.61,4.313,3.68,4.293,3.74,4.303,3.81,4.313,3.87,4.297,3.95,4.303,4.03,4.263,4.07,4.313,4.13,4.293,4.19,4.263,4.27,4.303,4.33,4.283,4.39,4.297,4.49,4.273,4.59,4.267,4.73,4.293,3.08,4.263,3.19,4.253,3.33,4.273,3.43,4.243,3.53,4.263,3.64,4.247,3.72,4.257,3.81,4.233,3.95,4.257,4.07,4.207,4.25,4.223,4.41,4.207,3.12,4.377,3.24,4.393,3.36,4.393,3.47,4.383,3.58,4.403,3.68,4.377,3.76,4.393,3.86,4.407,3.94,4.387,4.03,4.373,4.09,4.397,4.19,4.373,4.31,4.383,4.33,4.407,4.42,4.403,3.6,4.423,3.72,4.427,3.81,4.443,3.92,4.447,4.05,4.453,4.13,4.447,4.19,4.42,4.36,4.443,4.52,4.4,2.89,4.303,2.71,4.283,2.83,4.267,2.97,4.317,3.13,4.253,3.28,4.247,3.18,4.227,3.42,4.207,3.6,4.223,3.72,4.213,3.9,4.187,4.15,4.19,4.28,4.197,3.5,4.155,3.68,4.145,3.95,4.12,
  3.07,4.348,3.15,4.324,3.24,4.328,3.31,4.348,3.37,4.325,3.45,4.338,3.52,4.324,3.57,4.342,3.64,4.328,3.71,4.342,3.77,4.326,3.83,4.35,3.89,4.322,3.97,4.342,4.03,4.326,4.1,4.344,4.16,4.34,4.22,4.312,4.28,4.336,4.35,4.314,4.42,4.322,4.48,4.306,3.05,4.282,3.14,4.272,3.26,4.276,3.36,4.288,3.44,4.268,3.56,4.278,3.63,4.284,3.7,4.268,3.77,4.274,3.85,4.286,3.93,4.272,4.01,4.276,4.08,4.286,4.16,4.27,4.24,4.29,4.31,4.262,4.38,4.274,4.47,4.252,3.14,4.362,3.21,4.372,3.3,4.38,3.39,4.372,3.5,4.372,3.65,4.396,3.73,4.368,3.84,4.373,3.9,4.396,3.98,4.352,4.06,4.384,4.14,4.372,4.21,4.394,4.27,4.358,4.35,4.376,4.42,4.386,3.25,4.234,3.38,4.222,3.49,4.246,3.58,4.233,3.68,4.236,3.77,4.242,3.86,4.226,3.97,4.228,4.05,4.238,4.14,4.212,4.32,4.236,3.55,4.176,3.7,4.152,3.87,4.172,4.03,4.178,4.17,4.15,3.23,4.178,3.38,4.158,3.13,4.135];
const ptsOlive = [3.83,4.465,2.54,4.4,2.42,4.33,2.3,4.35,2.55,4.38,2.7,4.4,2.82,4.41,3.0,4.395,3.25,4.4,3.55,4.42,3.72,4.44,3.88,4.42,4.1,4.395,3.0,4.34,2.85,4.33,2.72,4.33,2.6,4.32,2.48,4.31,2.35,4.29,2.25,4.32,2.18,4.34,2.12,4.26,2.68,4.27,2.8,4.3,2.95,4.31,3.1,4.32,3.25,4.3,3.4,4.33,3.52,4.32,3.65,4.32,3.78,4.31,3.9,4.3,4.05,4.32,4.18,4.3,4.28,4.29,4.42,4.3,4.6,4.29,3.1,4.27,3.25,4.25,3.4,4.27,3.6,4.27,3.75,4.24,3.9,4.22,4.08,4.24,4.22,4.23,4.42,4.22,4.6,4.23,4.9,4.48,4.95,4.4,2.95,4.26,2.78,4.22,2.6,4.2,3.35,4.17,3.6,4.16,3.85,4.14,4.1,4.13,3.0,4.16,2.82,4.12,3.15,4.12,
  2.88,4.337,3.05,4.327,3.16,4.313,3.33,4.313,3.46,4.327,3.59,4.333,3.72,4.327,3.84,4.317,3.96,4.313,4.11,4.317,4.24,4.307,4.36,4.293,4.5,4.287,3.04,4.283,3.21,4.267,3.31,4.263,3.46,4.283,3.58,4.253,3.68,4.277,3.84,4.263,3.97,4.243,4.13,4.253,4.27,4.243,4.37,4.257,3.16,4.233,3.34,4.203,3.5,4.237,3.66,4.217,3.83,4.203,4.02,4.213,4.2,4.177,2.9,4.357,3.17,4.363,3.42,4.377,3.62,4.39,3.92,4.413,3.0,4.223,2.86,4.187,
  2.76,4.302,2.93,4.287,3.09,4.292,3.2,4.302,3.38,4.286,3.51,4.298,3.66,4.303,3.76,4.288,3.89,4.283,4.03,4.3,4.17,4.284,4.29,4.268,4.43,4.268,3.27,4.218,3.41,4.232,3.58,4.212,3.79,4.222,3.93,4.237,4.12,4.233,4.3,4.214,3.46,4.18,3.72,4.182,3.94,4.157,3.12,4.212,2.96,4.212];
const ptsGold = [2.12,4.28,1.72,4.25,2.15,4.23,2.25,4.29,2.38,4.24,2.52,4.24,2.65,4.24,2.72,4.21,2.85,4.23,3.0,4.25,3.12,4.24,3.28,4.23,3.42,4.26,3.55,4.27,3.68,4.23,3.8,4.25,3.92,4.26,4.05,4.22,4.18,4.26,4.32,4.25,4.45,4.22,3.02,4.2,3.15,4.19,3.3,4.18,3.5,4.22,3.68,4.19,3.85,4.21,4.0,4.17,4.15,4.19,4.28,4.15,4.4,4.17,3.78,4.32,3.55,4.35,3.28,4.35,3.1,4.35,2.9,4.37,2.68,4.31,2.5,4.22,3.7,4.3,4.0,4.25,4.25,4.16,4.4,4.12,4.55,4.15,2.75,4.17,2.92,4.14,3.08,4.15,
  3.17,4.273,3.29,4.257,3.37,4.233,3.46,4.213,3.6,4.243,3.72,4.267,3.87,4.243,3.98,4.223,4.12,4.207,4.23,4.197,4.37,4.213,3.21,4.213,3.37,4.187,3.55,4.177,3.73,4.173,3.93,4.183,4.07,4.147,2.93,4.197,3.06,4.173,3.24,4.157,3.42,4.167,3.68,4.133,3.91,4.117,4.15,4.127,3.58,4.293,3.83,4.283,3.62,4.313,4.07,4.277,4.25,4.267,4.5,4.237,
  3.1,4.236,3.24,4.242,3.47,4.242,3.61,4.226,3.75,4.212,3.87,4.222,4.0,4.206,4.16,4.228,4.3,4.186,3.38,4.2,3.54,4.196,3.78,4.186,3.97,4.192,4.1,4.172,4.24,4.142,4.34,4.158,3.0,4.185,3.16,4.166,3.33,4.142,3.53,4.142,3.77,4.155,4.0,4.13];
const ptsOrange = [1.61,4.121,1.84,4.109,2.06,4.162,2.0,4.199,2.2,4.203,2.17,4.18,2.2,4.163,2.27,4.166,2.19,4.143,2.29,4.147,2.33,4.139,2.39,4.139,2.39,4.121,2.27,4.093,2.38,4.055,2.48,4.071,2.58,4.086,2.63,4.086,2.61,4.096,2.59,4.101,2.64,4.062,2.63,4.011,2.54,4.146,2.58,4.129,2.58,4.125,2.54,4.122,2.65,4.114,2.7,4.124,2.75,4.124,2.57,4.159,2.65,4.169,2.63,4.164,2.68,4.15,2.57,4.187,2.64,4.187,2.77,4.136,2.84,4.141,2.87,4.141,2.92,4.143,2.91,4.129,2.85,4.12,2.88,4.115,2.91,4.109,2.8,4.092,2.8,4.088,2.83,4.071,2.75,4.067,2.44,4.205,2.4,4.18,2.52,4.2,2.6,4.21,2.7,4.195,2.78,4.17,2.88,4.18,2.98,4.19,3.08,4.2,3.18,4.19,3.28,4.21,3.38,4.19,3.5,4.19,3.58,4.17,3.7,4.18,3.82,4.15,3.92,4.17,4.02,4.15,4.15,4.15,4.25,4.13,4.38,4.14,3.02,4.16,3.1,4.14,3.22,4.15,3.32,4.16,3.42,4.15,3.5,4.13,3.6,4.145,3.72,4.13,3.85,4.13,3.98,4.11,4.12,4.1,4.28,4.11,3.05,4.12,3.15,4.115,3.28,4.125,3.4,4.11,3.55,4.12,3.7,4.105,3.85,4.09,3.95,4.09,4.1,4.07,4.18,4.08,1.95,4.212,2.4,4.24,2.32,4.255,2.02,4.27,1.78,4.28,
  2.72,4.183,2.81,4.197,2.93,4.173,3.01,4.187,3.13,4.173,3.21,4.183,3.33,4.177,3.41,4.163,3.47,4.203,3.55,4.157,3.63,4.163,3.75,4.147,3.88,4.147,3.97,4.137,4.07,4.133,4.18,4.117,4.33,4.127,2.95,4.147,3.03,4.137,3.14,4.137,3.26,4.143,3.36,4.133,3.47,4.143,3.57,4.133,3.66,4.117,3.78,4.123,3.9,4.103,4.03,4.097,3.12,4.097,3.24,4.107,3.35,4.087,3.46,4.097,3.6,4.097,3.72,4.087,3.8,4.103,3.93,4.07,2.94,4.103,3.04,4.095,3.22,4.083,3.38,4.117,2.75,4.152,2.67,4.203,2.9,4.213,3.15,4.22,3.4,4.23,3.63,4.2,3.8,4.197,4.0,4.2,4.2,4.17,4.35,4.17,4.5,4.17,
  2.96,4.172,3.07,4.152,3.17,4.157,3.28,4.172,3.37,4.145,3.45,4.172,3.53,4.152,3.64,4.15,3.76,4.166,3.87,4.115,3.99,4.15,4.1,4.142,4.22,4.128,3.07,4.108,3.19,4.122,3.31,4.104,3.43,4.127,3.51,4.108,3.65,4.134,3.75,4.096,3.89,4.108,4.04,4.118,4.2,4.095,2.97,4.122,2.82,4.162,2.72,4.147,2.86,4.103,3.11,4.125,3.25,4.192,3.55,4.206,3.42,4.184,3.15,4.205];
const ptsAmber = [2.91,4.044,2.75,4.039,2.81,4.02,2.85,4.028,2.94,4.028,2.95,4.025,2.99,4.002,2.94,4.077,2.98,4.074,2.97,4.091,3.0,4.091,3.06,4.056,3.09,4.06,3.13,4.048,3.06,4.025,3.09,4.03,3.13,4.032,3.2,4.027,3.18,4.007,3.24,4.0,3.22,4.044,3.29,4.06,3.32,4.051,3.3,4.046,3.39,4.039,3.45,4.032,3.48,4.037,3.51,4.046,3.53,4.025,3.52,4.009,3.58,3.98,3.7,3.935,3.64,4.0,3.74,4.055,3.73,4.03,3.67,4.016,3.37,4.081,3.41,4.076,3.24,4.076,3.27,4.09,3.31,4.088,3.13,4.099,3.16,4.095,3.21,4.097,3.02,4.1,3.05,4.08,3.15,4.07,3.35,4.1,3.44,4.1,3.5,4.08,3.58,4.085,3.62,4.1,3.78,4.09,3.85,4.06,3.9,4.08,3.98,4.07,4.02,4.03,3.82,4.03,3.9,4.02,3.95,4.0,4.08,4.0,3.78,4.005,3.72,3.985,3.42,4.065,3.55,4.06,3.65,4.08,4.0,4.13,3.78,4.11,3.6,4.115,3.4,4.13,3.2,4.13,5.46,4.018,5.54,4.022,
  3.53,4.073,3.59,4.067,3.68,4.057,3.78,4.063,3.86,4.078,3.43,4.087,3.28,4.072,3.19,4.06,3.62,4.045,3.47,4.053,3.59,4.03,3.81,4.047,3.95,4.047,4.13,4.047,3.68,4.09,3.45,4.112,3.26,4.112,
  3.34,4.068,3.12,4.085,3.1,4.072,2.93,4.06,2.87,4.05,3.03,4.043,3.25,4.027,3.36,4.062,3.57,4.102,3.7,4.068,3.92,4.055];

// Group draw order: first drawn first, later groups sit on top
const groupData = [ptsViolet, ptsPurple, ptsLavender, ptsBlue, ptsSky, ptsTeal, ptsAqua, ptsCyan, ptsMint, ptsSeaGreen, ptsEmerald, ptsPink, ptsSalmon, ptsCoral, ptsLime, ptsGreen, ptsOlive, ptsGold, ptsOrange, ptsAmber];
const groupColors = ['#E76BF3', '#B983FF', '#8F91FF', '#00B0F6', '#00AEF5', '#00BBB5', '#00BCD6', '#00B7EB', '#00BE7D', '#00BF8F', '#00BA48', '#FF61E0', '#F8766D', '#FF7F38', '#6BB100', '#0CB702', '#A3A500', '#C49A00', '#EF8A00', '#DE8C00'];

const xMin = 1.134, xMax = 8.66;

// flat x,y list to chart points
function toPoints(flat) {
    const out = [];
    for (let i = 0; i < flat.length; i += 2) out.push({ x: flat[i], y: flat[i + 1] });
    return out;
}

function zip(xs, ys) {
    return xs.map((x, i) => ({ x, y: ys[i] }));
}

const datasets = [];

// Fan lines at the very back; the outer few are thin, the rest merge into a solid band
fanLeft.forEach((left, i) => {
    datasets.push({
        type: 'line',
        data: [{ x: xMin, y: left }, { x: xMax, y: fanRight[i] }],
        borderColor: '#97D7E7',
        borderWidth: (i < 11 || i > 102) ? 1.3 : 2.8,
        pointRadius: 0,
        order: 100
    });
});

datasets.push({
    type: 'line',
    data: zip(blackDashX, blackDashY),
    borderColor: '#000',
    borderWidth: 3,
    borderDash: [14, 13],
    pointRadius: 0,
    order: 90
});

groupData.forEach((pts, i) => {
    datasets.push({
        type: 'scatter',
        data: toPoints(pts),
        backgroundColor: groupColors[i],
        pointRadius: 2.5,
        pointBorderWidth: 0,
        order: 80 - i
    });
});

datasets.push({
    type: 'scatter',
    data: zip(meanX, meanY),
    backgroundColor: meanColors,
    pointRadius: 11,
    pointBorderWidth: 0,
    order: 10
});
datasets.push({
    type: 'scatter',
    data: zip(meanX, meanY),
    backgroundColor: '#000',
    pointRadius: 4,
    pointBorderWidth: 0,
    order: 9
});
datasets.push({
    type: 'scatter',
    data: zip(ringX, ringY),
    backgroundColor: ringColors,
    pointRadius: 11,
    pointBorderWidth: 0,
    order: 8
});
datasets.push({
    type: 'scatter',
    data: zip(ringX, ringY),
    backgroundColor: '#fff',
    pointRadius: 3.8,
    pointBorderWidth: 0,
    order: 7
});
datasets.push({
    type: 'line',
    data: zip(blueDashX, blueDashY),
    borderColor: '#0000FF',
    borderWidth: 3,
    borderDash: [14, 13],
    pointRadius: 0,
    order: 1
});

// Grey panel behind the grid
const panelBackground = {
    id: 'panelBackground',
    beforeDraw(chart) {
        const { ctx, chartArea: a } = chart;
        ctx.save();
        ctx.fillStyle = '#EBEBEB';
        ctx.fillRect(a.left, a.top, a.right - a.left, a.bottom - a.top);
        ctx.restore();
    }
};

function isMajor(list, v) {
    return list.some(m => Math.abs(m - v) < 1e-6);
}

new Chart(document.getElementById('chart'), {
    data: { datasets },
    plugins: [panelBackground],
    options: {
        responsive: false,
        animation: false,
        layout: { autoPadding: false, padding: { left: 0, right: 0, top: 14, bottom: 0 } },
        plugins: { legend: { display: false }, tooltip: { enabled: false } },
        scales: {
            x: {
                type: 'linear',
                min: xMin,
                max: xMax,
                afterBuildTicks: axis => { axis.ticks = xTicks.map(v => ({ value: v })); },
                afterFit: axis => { axis.height = 101; axis.paddingLeft = 0; axis.paddingRight = 0; },
                border: { display: false },
                grid: {
                    color: '#fff',
                    lineWidth: c => isMajor(xMajor, c.tick.value) ? 1.6 : 0.8,
                    tickColor: c => isMajor(xMajor, c.tick.value) ? '#333' : 'rgba(0,0,0,0)',
                    tickLength: 5,
                    tickWidth: 1.2
                },
                ticks: {
                    autoSkip: false,
                    maxRotation: 0,
                    padding: 8,
                    color: '#4D4D4D',
                    font: { family: '"Liberation Sans", Arial, sans-serif', size: 20 },
                    callback: v => isMajor(xMajor, v) ? v.toFixed(1) : ''
                }
            },
            y: {
                type: 'linear',
                min: 3.79,
                max: 4.6125,
                afterBuildTicks: axis => { axis.ticks = yTicks.map(v => ({ value: v })); },
                afterFit: axis => { axis.width = 143; axis.paddingTop = 0; axis.paddingBottom = 0; },
                border: { display: false },
                grid: {
                    color: '#fff',
                    lineWidth: c => isMajor(yMajor, c.tick.value) ? 1.6 : 0.8,
                    tickColor: c => isMajor(yMajor, c.tick.value) ? '#333' : 'rgba(0,0,0,0)',
                    tickLength: 5,
                    tickWidth: 1.2
                },
                ticks: {
                    autoSkip: false,
                    padding: 4,
                    color: '#4D4D4D',
                    font: { family: '"Liberation Sans", Arial, sans-serif', size: 20 },
                    callback: v => isMajor(yMajor, v) ? v.toFixed(1) : ''
                }
            }
        }
    }
});
</script>
</body>
</html>
